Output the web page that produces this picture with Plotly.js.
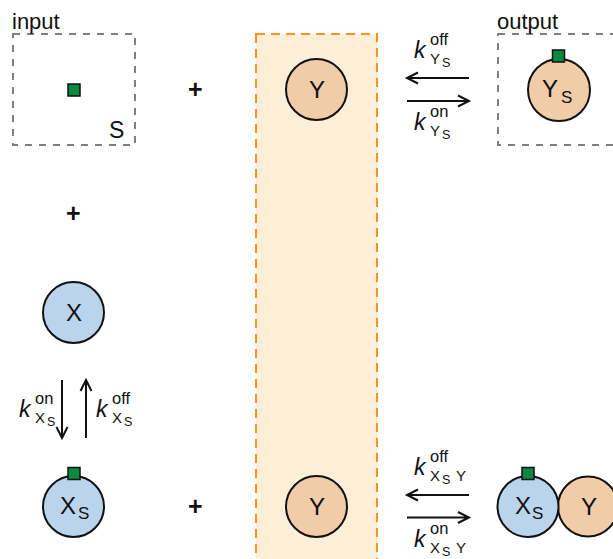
<!DOCTYPE html>
<html>
<head>
<meta charset="utf-8">
<script src="https://cdn.plot.ly/plotly-3.0.1.min.js"></script>
<style>html,body{margin:0;padding:0;background:#fff;}#chart{width:613px;height:559px;}</style>
</head>
<body>
<div id="chart"></div>
<script>
// ---- content (labels) ----
const boxLabels = ['input', 'output'];
const signalLabel = 'S';
const speciesX = 'X';
const speciesY = 'Y';
const subS = 'S';
const rateSymbol = 'k';
const rateOff = 'off';
const rateOn = 'on';
const subYS = ['Y', 'S'];          // k_{Y_S}
const subXS = ['X', 'S'];          // k_{X_S}
const subXSY = ['X', 'S', 'Y'];    // k_{X_S Y}

// ---- styling ----
const FONT = 'Liberation Sans, Arial, sans-serif';
const INK = '#111111';
const BLUE = '#bad4ee';
const PEACH = '#f0cca9';
const GREEN = '#0a8a3e';
const GRAY = '#7f7f7f';
const ORANGE = '#f7931e';
const ORANGE_FILL = '#fdefd7';

const shapes = [];
const ann = [];

function T(x, base, text, size, xa, extra) {
  ann.push(Object.assign({
    x: x, y: base - 0.3465 * size, xref: 'x', yref: 'y', text: text,
    showarrow: false, xanchor: xa || 'left', yanchor: 'middle',
    borderpad: 0, font: {family: FONT, size: size, color: INK}
  }, extra || {}));
}
function circle(cx, cy, r, fill) {
  shapes.push({type: 'circle', xref: 'x', yref: 'y', x0: cx - r, x1: cx + r, y0: cy - r, y1: cy + r,
    fillcolor: fill, line: {color: INK, width: 2}});
}
function square(x0, y0, s) {
  shapes.push({type: 'rect', xref: 'x', yref: 'y', x0: x0, x1: x0 + s, y0: y0, y1: y0 + s,
    fillcolor: GREEN, line: {color: INK, width: 1.5}});
}
function arrow(x1, y1, x2, y2) {
  // from (x1,y1) to tip (x2,y2)
  const dx = x2 - x1, dy = y2 - y1, L = Math.hypot(dx, dy);
  const ux = dx / L, uy = dy / L, px = -uy, py = ux;
  const hl = 11, hw = 5.5;
  const bx = x2 - ux * hl, by = y2 - uy * hl;
  const p = 'M' + x1 + ',' + y1 + ' L' + x2 + ',' + y2 +
    ' M' + (bx + px * hw) + ',' + (by + py * hw) + ' L' + x2 + ',' + y2 +
    ' L' + (bx - px * hw) + ',' + (by - py * hw);
  shapes.push({type: 'path', xref: 'x', yref: 'y', path: p, line: {color: INK, width: 2}});
}
function plus(x, y) {
  T(x, y + 8.5, '<b>+</b>', 25, 'center');
}
// rate label: k^{sup}_{sub...}
function rate(xk, base, sup, subs) {
  T(xk - 0.5, base, '<i>' + rateSymbol + '</i>', 23, 'left');
  T(xk + 15.5, base - 13.5, sup, 16.5, 'left');
  T(xk + 16, base + 5.5, subs[0], 15, 'left');
  T(xk + 28, base + 9.5, subs[1], 12.5, 'left');
  if (subs[2]) T(xk + 41.5, base + 5.5, subs[2], 15, 'left');
}

// ---- shapes ----
// orange column
shapes.push({type: 'rect', xref: 'x', yref: 'y', x0: 256, x1: 377, y0: 34, y1: 570,
  fillcolor: ORANGE_FILL, line: {color: ORANGE, width: 2, dash: '9px,6px'}, layer: 'below'});
// input / output boxes
shapes.push({type: 'rect', xref: 'x', yref: 'y', x0: 13, x1: 135, y0: 34, y1: 145,
  fillcolor: 'rgba(0,0,0,0)', line: {color: GRAY, width: 2, dash: '7px,7px'}});
shapes.push({type: 'rect', xref: 'x', yref: 'y', x0: 498, x1: 640, y0: 34, y1: 145,
  fillcolor: 'rgba(0,0,0,0)', line: {color: GRAY, width: 2, dash: '7px,7px'}});

// circles
circle(316.5, 89.5, 30.5, PEACH);      // Y top
circle(559, 90, 31, PEACH);            // Y_S
circle(73.5, 312.5, 30.5, BLUE);       // X
circle(73.5, 506.5, 30.5, BLUE);       // X_S left
circle(316.5, 506.5, 30.5, PEACH);     // Y bottom
circle(588, 506.5, 30, PEACH);         // Y (complex)
circle(528, 506.5, 30.5, BLUE);        // X_S (complex)

// signal squares
square(68, 84, 12);
square(552.5, 50, 12);
square(68, 467.5, 12);
square(522, 467.5, 12);

// arrows
arrow(469, 78, 407, 78);
arrow(407, 101, 469, 101);
arrow(469, 495, 407, 495);
arrow(407, 517.5, 469, 517.5);
arrow(62, 380, 62, 438);
arrow(86, 438, 86, 380);

// ---- text ----
T(11, 29, boxLabels[0], 22, 'left');
T(496, 29, boxLabels[1], 22, 'left');
T(116, 138, signalLabel, 23, 'center');

T(316.5, 98, speciesY, 24, 'center');
T(541, 97, speciesY, 24, 'left');
T(559.5, 103, subS, 17, 'left');

T(73.5, 321, speciesX, 24, 'center');

T(59, 513.5, speciesX, 24, 'left');
T(76.5, 519, subS, 17, 'left');
T(316.5, 515, speciesY, 24, 'center');
T(513.5, 513.5, speciesX, 24, 'left');
T(531, 519, subS, 17, 'left');
T(588.5, 515, speciesY, 24, 'center');

plus(195.5, 89);
plus(73.5, 213);
plus(195.5, 506);

rate(413, 58, rateOff, subYS);
rate(413, 130, rateOn, subYS);
rate(413, 475, rateOff, subXSY);
rate(413, 547, rateOn, subXSY);
rate(18, 417, rateOn, subXS);
rate(95, 417, rateOff, subXS);

const layout = {
  width: 613, height: 559,
  margin: {l: 0, r: 0, t: 0, b: 0, pad: 0},
  paper_bgcolor: '#ffffff', plot_bgcolor: '#ffffff',
  xaxis: {range: [0, 613], visible: false, fixedrange: true},
  yaxis: {range: [559, 0], visible: false, fixedrange: true},
  showlegend: false,
  shapes: shapes,
  annotations: ann
};
Plotly.newPlot('chart', [], layout, {staticPlot: true, displayModeBar: false});
</script>
</body>
</html>
